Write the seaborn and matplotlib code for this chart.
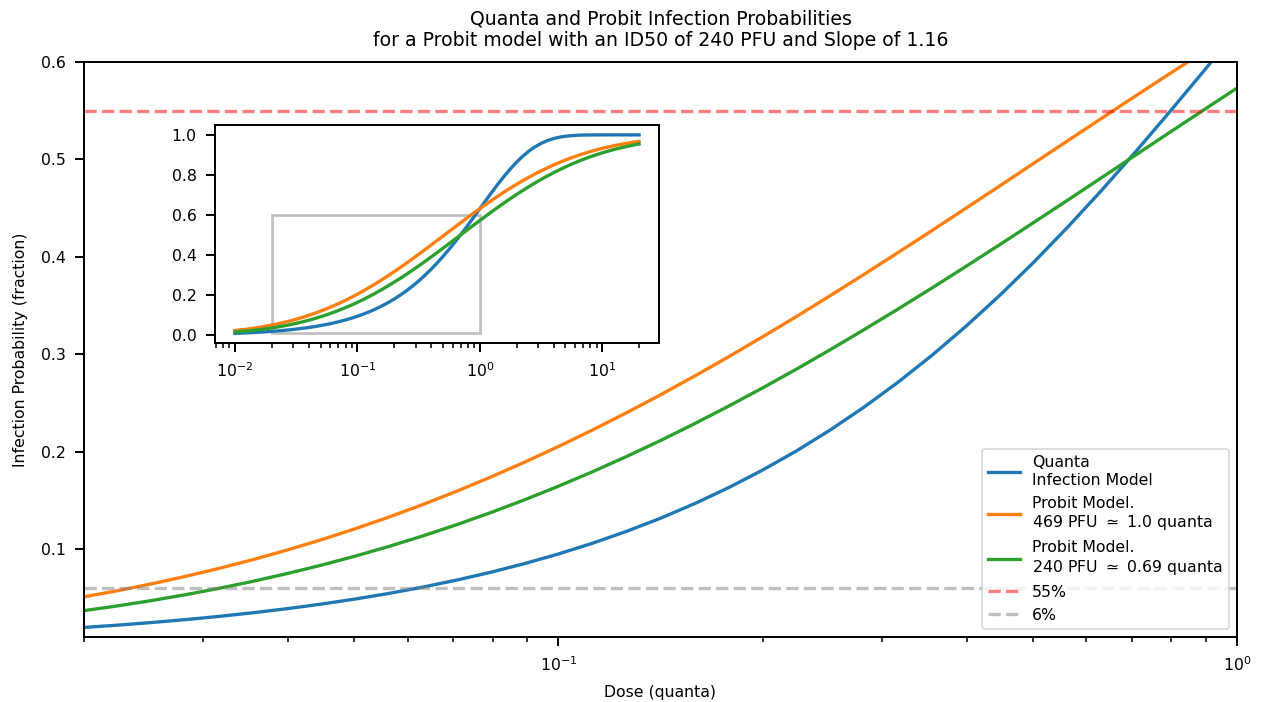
import matplotlib
matplotlib.use("Agg")
import matplotlib.pyplot as plt
from matplotlib.patches import Rectangle
import seaborn as sns
import numpy as np

# dose grid (quanta)
dose = [0.01, 0.01259, 0.01585, 0.01778, 0.01995, 0.02239, 0.02512, 0.02818,
        0.03162, 0.03548, 0.03981, 0.04467, 0.05012, 0.05623, 0.0631, 0.07079,
        0.07943, 0.08913, 0.1, 0.1122, 0.1259, 0.1413, 0.1585, 0.1778,
        0.1995, 0.2239, 0.2512, 0.2818, 0.3162, 0.3548, 0.3981, 0.4467,
        0.5012, 0.5623, 0.631, 0.7079, 0.7943, 0.8913, 1.0, 1.122,
        1.259, 1.413, 1.585, 1.778, 1.995, 2.239, 2.512, 2.818,
        3.162, 3.548, 3.981, 4.467, 5.012, 5.623, 6.31, 7.079,
        7.943, 8.913, 10.0, 12.59, 15.85, 19.95]

# quanta infection model
p_quanta = [0.00995, 0.01251, 0.01572, 0.01763, 0.01975, 0.02214, 0.02481, 0.02779,
            0.03113, 0.03486, 0.03903, 0.04369, 0.04888, 0.05468, 0.06115, 0.06835,
            0.07636, 0.08527, 0.09516, 0.10614, 0.11828, 0.13173, 0.14657, 0.16291,
            0.18089, 0.20058, 0.22213, 0.24560, 0.27111, 0.29870, 0.32841, 0.36025,
            0.39419, 0.43013, 0.46792, 0.50735, 0.54811, 0.58986, 0.63212, 0.67438,
            0.71602, 0.75648, 0.79504, 0.83107, 0.86403, 0.89341, 0.91888, 0.94030,
            0.95767, 0.97122, 0.98133, 0.98852, 0.99334, 0.99639, 0.99818, 0.99916,
            0.99965, 0.99987, 0.99995, 1.0, 1.0, 1.0]

# probit model, 469 PFU ~ 1.0 quanta
p_probit_469 = [0.02371, 0.03098, 0.04002, 0.04527, 0.05108, 0.05744, 0.06445, 0.07207,
                0.08039, 0.08938, 0.09914, 0.10961, 0.12090, 0.13294, 0.14583, 0.15949,
                0.17400, 0.18927, 0.20540, 0.22226, 0.23994, 0.25831, 0.27743, 0.29716,
                0.31757, 0.33848, 0.35998, 0.38186, 0.40420, 0.42677, 0.44967, 0.47265,
                0.49581, 0.51890, 0.54201, 0.56490, 0.58764, 0.61003, 0.63213, 0.65372,
                0.67490, 0.69547, 0.71549, 0.73480, 0.75348, 0.77138, 0.78857, 0.80494,
                0.82056, 0.83532, 0.84931, 0.86245, 0.87483, 0.88636, 0.89716, 0.90715,
                0.91644, 0.92498, 0.93287, 0.94668, 0.95814, 0.96752]

# probit model, 240 PFU ~ 0.69 quanta
p_probit_240 = [0.01637, 0.02172, 0.02850, 0.03248, 0.03694, 0.04186, 0.04732, 0.05332,
                0.05991, 0.06713, 0.07502, 0.08356, 0.09285, 0.10284, 0.11364, 0.12517,
                0.13755, 0.15069, 0.16468, 0.17944, 0.19506, 0.21143, 0.22862, 0.24652,
                0.26520, 0.28451, 0.30453, 0.32510, 0.34628, 0.36787, 0.38997, 0.41236,
                0.43510, 0.45799, 0.48110, 0.50419, 0.52735, 0.55033, 0.57323, 0.59580,
                0.61814, 0.64002, 0.66152, 0.68243, 0.70284, 0.72257, 0.74169, 0.76006,
                0.77774, 0.79460, 0.81073, 0.82600, 0.84051, 0.85417, 0.86706, 0.87910,
                0.89039, 0.90086, 0.91062, 0.92793, 0.94256, 0.95473]

labels = ["Quanta\nInfection Model",
          "Probit Model.\n469 PFU $\\simeq$ 1.0 quanta",
          "Probit Model.\n240 PFU $\\simeq$ 0.69 quanta"]
series = [p_quanta, p_probit_469, p_probit_240]
colors = ["C0", "C1", "C2"]

thresholds = [0.55, 0.06]
threshold_labels = ["55%", "6%"]
threshold_colors = ["red", "gray"]

plt.rcParams["font.family"] = ["DejaVu Sans"]
for a in ("xtick", "ytick"):
    plt.rcParams[f"{a}.major.size"] = 5.7
    plt.rcParams[f"{a}.minor.size"] = 3.2
    plt.rcParams[f"{a}.major.pad"] = 5.7
    plt.rcParams[f"{a}.minor.pad"] = 5.7

DPI = 113.5
fig = plt.figure(figsize=(1263 / DPI, 702 / DPI), dpi=DPI)
ax = fig.add_axes([0.0665, 0.0926, 0.9129, 0.8191])

for y, lab, c in zip(series, labels, colors):
    sns.lineplot(x=dose, y=y, ax=ax, color=c, label=lab, linewidth=2.1)

for h, lab, c in zip(thresholds, threshold_labels, threshold_colors):
    ax.axhline(h, color=c, alpha=0.5, linestyle="--", linewidth=2.1, label=lab)

ax.set_xscale("log")
ax.set_xlim(0.02, 1.0)
ax.set_ylim(0.01, 0.6)
ax.set_xlabel("Dose (quanta)", labelpad=7.5)
ax.set_ylabel("Infection Probability (fraction)", labelpad=8)
ax.set_title("Quanta and Probit Infection Probabilities\n"
             "for a Probit model with an ID50 of 240 PFU and Slope of 1.16",
             pad=10)
ax.legend(loc="lower right")
for s in ax.spines.values():
    s.set_linewidth(1.25)
ax.tick_params(which="major", width=1.25)
ax.tick_params(which="minor", width=1.0)

# inset with the full dose range
axins = fig.add_axes([0.170, 0.511, 0.352, 0.311])
for y, c in zip(series, colors):
    sns.lineplot(x=dose, y=y, ax=axins, color=c, linewidth=2.1, legend=False)
axins.set_xscale("log")
for s in axins.spines.values():
    s.set_linewidth(1.25)
axins.tick_params(which="major", width=1.25)
axins.tick_params(which="minor", width=1.0)

# box showing the main view
x0, x1 = ax.get_xlim()
y0, y1 = ax.get_ylim()
axins.add_patch(Rectangle((x0, y0), x1 - x0, y1 - y0, fill=False,
                          edgecolor="gray", alpha=0.5, linewidth=1.7))

fig.savefig("out.png", dpi=DPI)
